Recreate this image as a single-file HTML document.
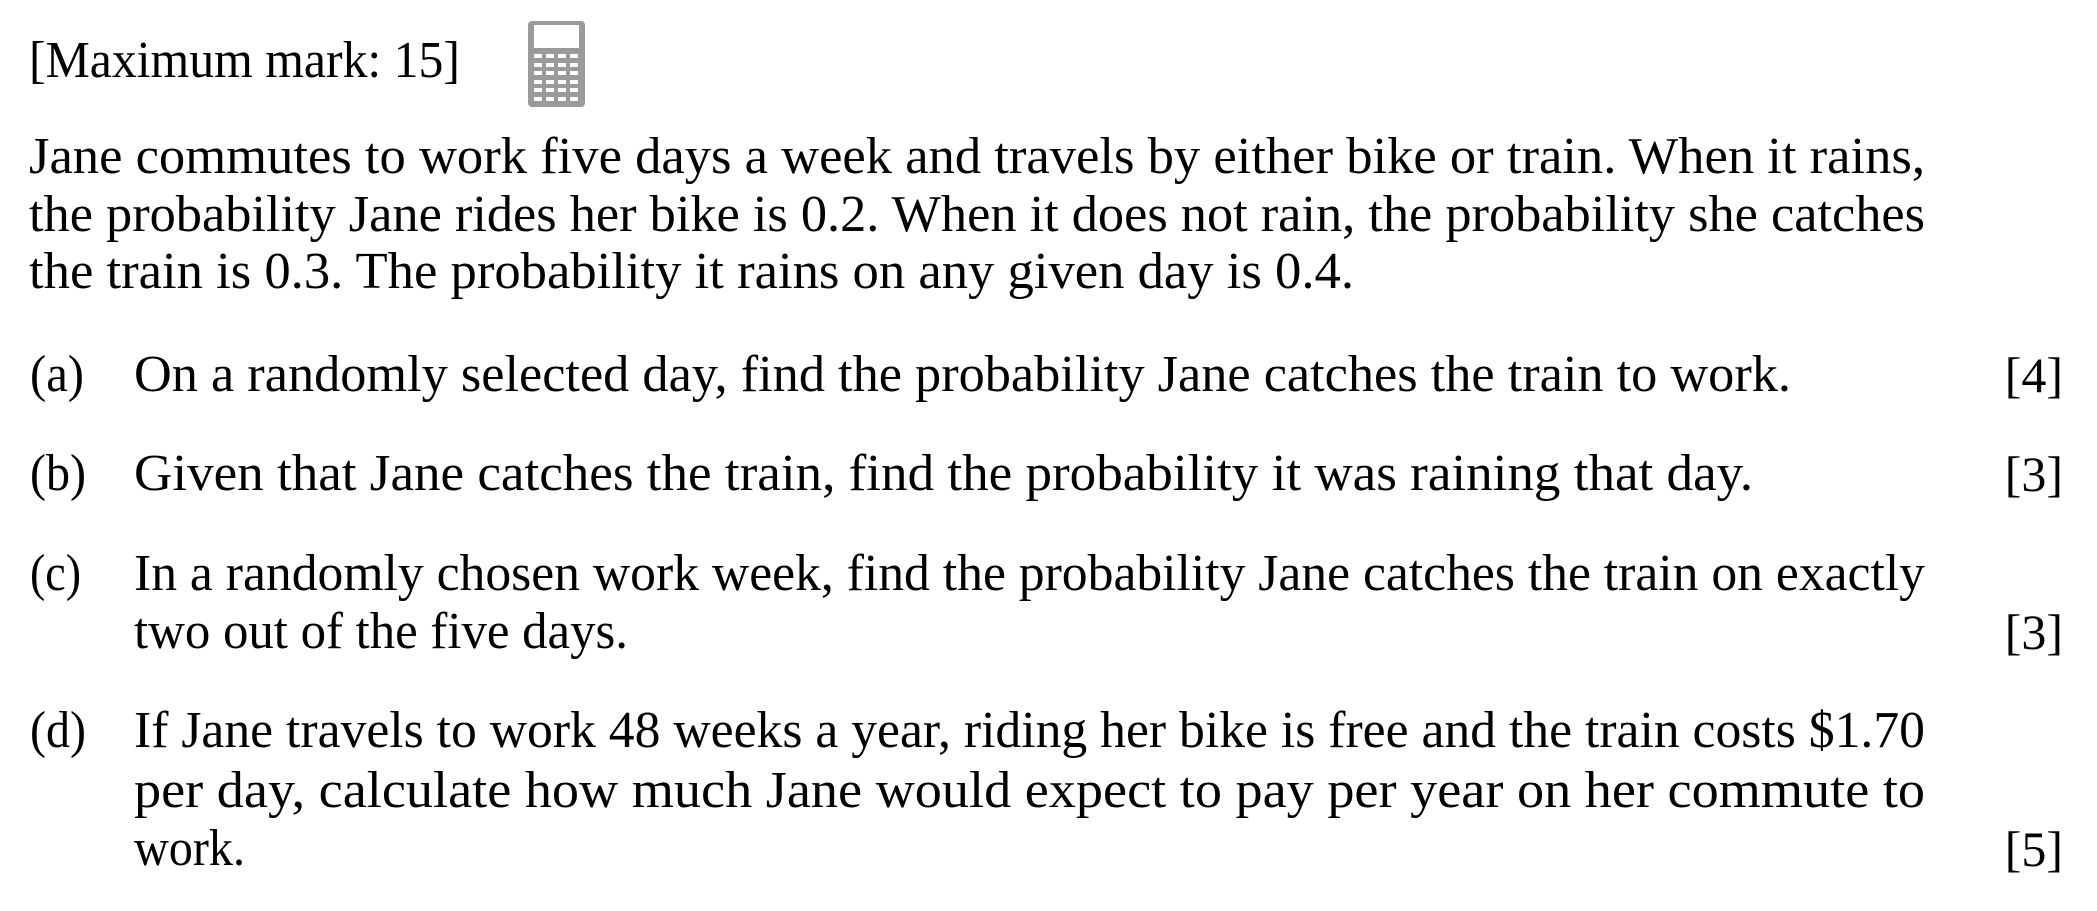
<!DOCTYPE html>
<html><head><meta charset="utf-8">
<style>
html,body{margin:0;padding:0;background:#fff;}
body{width:2097px;height:911px;position:relative;overflow:hidden;font-family:"Liberation Serif",serif;color:#000;}
.l{position:absolute;font-size:52px;line-height:52px;white-space:nowrap;transform-origin:0 0;margin-top:-3px;}
.m{position:absolute;font-size:50px;line-height:50px;white-space:nowrap;margin-top:-2px;}
#calc{position:absolute;left:528px;top:21px;width:57px;height:86px;background:#9a9a9a;border-radius:4px;}
#calc .scr{position:absolute;left:6px;top:4px;width:45px;height:23px;background:#fff;}
#calc .b{position:absolute;width:8px;height:4px;background:#fff;}
</style></head><body>
<div class="l" data-w="431" style="left:29px;top:38px">[Maximum mark: 15]</div>
<div id="calc"><div class="scr"></div></div>

<div class="l" data-w="1896" style="left:29px;top:134px">Jane commutes to work five days a week and travels by either bike or train. When it rains,</div>
<div class="l" data-w="1896" style="left:29px;top:192px">the probability Jane rides her bike is 0.2. When it does not rain, the probability she catches</div>
<div class="l" data-w="1325" style="left:29px;top:249px">the train is 0.3. The probability it rains on any given day is 0.4.</div>

<div class="l" data-w="54" style="left:30px;top:352px">(a)</div>
<div class="l" data-w="1657" style="left:134px;top:352px">On a randomly selected day, find the probability Jane catches the train to work.</div>
<div class="m" style="right:34px;top:352px">[4]</div>

<div class="l" data-w="56" style="left:30px;top:451px">(b)</div>
<div class="l" data-w="1619" style="left:134px;top:451px">Given that Jane catches the train, find the probability it was raining that day.</div>
<div class="m" style="right:34px;top:451px">[3]</div>

<div class="l" data-w="51" style="left:30px;top:551px">(c)</div>
<div class="l" data-w="1791" style="left:134px;top:551px">In a randomly chosen work week, find the probability Jane catches the train on exactly</div>
<div class="l" data-w="494" style="left:134px;top:609px">two out of the five days.</div>
<div class="m" style="right:34px;top:609px">[3]</div>

<div class="l" data-w="56" style="left:30px;top:708px">(d)</div>
<div class="l" data-w="1791" style="left:134px;top:708px">If Jane travels to work 48 weeks a year, riding her bike is free and the train costs $1.70</div>
<div class="l" data-w="1791" style="left:134px;top:768px">per day, calculate how much Jane would expect to pay per year on her commute to</div>
<div class="l" data-w="111" style="left:134px;top:826px">work.</div>
<div class="m" style="right:34px;top:826px">[5]</div>

<script>
var calc=document.getElementById('calc');
for(var r=0;r<6;r++){for(var c=0;c<4;c++){
  var b=document.createElement('div');
  b.className='b';
  
  
  b.style.left=(6+c*12)+'px';b.style.top=(33+r*8.5)+'px';
  calc.appendChild(b);
}}
document.querySelectorAll('.l').forEach(function(el){
  var w=+el.getAttribute('data-w');
  var a=el.getBoundingClientRect().width;
  if(a>0) el.style.transform='scaleX('+(w/a)+')';
});
</script>
</body></html>
